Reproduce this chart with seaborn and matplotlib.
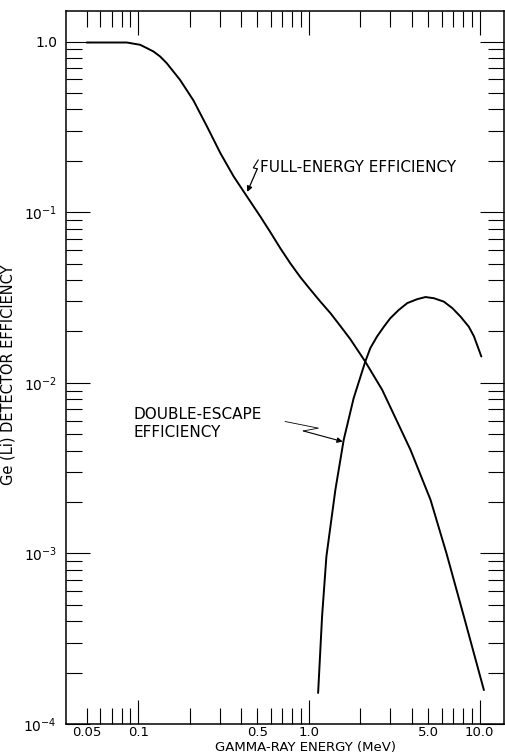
import matplotlib
import matplotlib.pyplot as plt
import numpy as np
import pandas as pd
import seaborn as sns
from matplotlib.ticker import FixedLocator, FixedFormatter, NullFormatter

matplotlib.use("Agg")

# full-energy efficiency curve
full_energy_mev = [0.050, 0.0858, 0.1027, 0.1125, 0.123, 0.1346, 0.147, 0.176, 0.211, 0.253,
                   0.303, 0.3625, 0.434, 0.52, 0.594, 0.680, 0.778, 0.891, 1.02, 1.168,
                   1.337, 1.53, 1.75, 2.14, 2.69, 3.94, 5.16, 6.4, 8.09, 10.6]
full_energy_eff = [0.987, 0.987, 0.957, 0.915, 0.874, 0.817, 0.747, 0.596, 0.451, 0.318,
                   0.222, 0.162, 0.1235, 0.0942, 0.0765, 0.0615, 0.0502, 0.0416, 0.0352, 0.0299,
                   0.0256, 0.0215, 0.0180, 0.0133, 0.00908, 0.00404, 0.00206, 0.00100, 0.000427,
                   0.000158]

# double-escape efficiency curve
double_escape_mev = [1.133, 1.195, 1.267, 1.43, 1.60, 1.83, 2.14, 2.29, 2.51, 2.75, 3.0,
                     3.36, 3.77, 4.31, 4.82, 5.40, 6.17, 6.92, 7.74, 8.65, 9.27, 10.24]
double_escape_eff = [1.52e-4, 4.27e-4, 9.6e-4, 0.00236, 0.00463, 0.00813, 0.0133, 0.01595,
                     0.0187, 0.0213, 0.0239, 0.0267, 0.0293, 0.0309, 0.0318, 0.0313, 0.0299,
                     0.0274, 0.0244, 0.0213, 0.0187, 0.01425]

x_major = [0.1, 1.0, 10.0]
x_minor = [0.05, 0.06, 0.07, 0.08, 0.09, 0.2, 0.3, 0.4, 0.5, 0.6, 0.7, 0.8, 0.9,
           2, 3, 4, 5, 6, 7, 8, 9]
x_label_pos = [0.05, 0.1, 0.5, 1.0, 5.0, 10.0]
x_label_txt = ["0.05", "0.1", "0.5", "1.0", "5.0", "10.0"]
y_major = [1e-4, 1e-3, 1e-2, 1e-1, 1.0]
y_major_txt = [r"$10^{-4}$", r"$10^{-3}$", r"$10^{-2}$", r"$10^{-1}$", "1.0"]
y_minor = [m * d for d in [1e-4, 1e-3, 1e-2, 1e-1] for m in range(2, 10)]

sns.set_style("ticks")
plt.rcParams["font.family"] = ["DejaVu Sans"]
plt.rcParams["axes.linewidth"] = 1.1
for key in ["text.color", "axes.labelcolor", "xtick.color", "ytick.color", "axes.edgecolor"]:
    plt.rcParams[key] = "black"

df = pd.concat([
    pd.DataFrame({"energy": full_energy_mev, "eff": full_energy_eff, "curve": "full"}),
    pd.DataFrame({"energy": double_escape_mev, "eff": double_escape_eff, "curve": "double"}),
])

fig = plt.figure(figsize=(5.06, 7.56), dpi=100)
ax = fig.add_axes([66 / 506, 32 / 756, 438 / 506, 713 / 756])

sns.lineplot(data=df, x="energy", y="eff", units="curve", estimator=None,
             color="black", lw=1.4, ax=ax, legend=False)

ax.set_xscale("log")
ax.set_yscale("log")
ax.set_xlim(0.0378, 13.9)
ax.set_ylim(1e-4, 1.51)

ax.xaxis.set_major_locator(FixedLocator(x_major))
ax.xaxis.set_minor_locator(FixedLocator(x_minor))
ax.xaxis.set_major_formatter(NullFormatter())
ax.xaxis.set_minor_formatter(NullFormatter())
ax.yaxis.set_major_locator(FixedLocator(y_major))
ax.yaxis.set_major_formatter(FixedFormatter(y_major_txt))
ax.yaxis.set_minor_locator(FixedLocator(y_minor))
ax.yaxis.set_minor_formatter(NullFormatter())

ax.tick_params(which="both", direction="in", top=True, right=True, color="black", width=0.8)
ax.tick_params(which="major", length=17)
ax.tick_params(which="minor", length=11.5)
ax.tick_params(axis="y", which="major", pad=6.5, labelsize=10)

for xv, txt in zip(x_label_pos, x_label_txt):
    ax.annotate(txt, xy=(xv, 0), xycoords=("data", "axes fraction"),
                xytext=(0, -1.2), textcoords="offset points",
                ha="center", va="top", fontsize=9.5)

ax.set_xlabel("GAMMA-RAY ENERGY (MeV)", fontsize=9.5, va="top")
ax.xaxis.set_label_coords(0.547, -0.0240)
ax.set_ylabel("Ge (Li) DETECTOR EFFICIENCY", fontsize=10.5)
ax.yaxis.set_label_coords(-0.1164, 0.49)

# labels and the little lightning arrows
ax.text(0.5195, 0.1819, "FULL-ENERGY EFFICIENCY", fontsize=11, ha="left", va="center")
ax.plot([0.5056, 0.4727, 0.4988], [0.2025, 0.1818, 0.1794], color="black", lw=0.8)
ax.annotate("", xy=(0.4357, 0.1315), xytext=(0.4988, 0.1794),
            arrowprops=dict(arrowstyle="-|>", color="black", lw=0.9, mutation_scale=8,
                            shrinkA=0, shrinkB=0))

ax.text(0.0935, 0.00578, "DOUBLE-ESCAPE\nEFFICIENCY", fontsize=11, ha="left", va="center",
        linespacing=1.25)
ax.plot([0.725, 1.137, 0.928], [0.00593, 0.00542, 0.00522], color="black", lw=0.6)
ax.annotate("", xy=(1.578, 0.00452), xytext=(0.928, 0.00522),
            arrowprops=dict(arrowstyle="-|>", color="black", lw=0.8, mutation_scale=8,
                            shrinkA=0, shrinkB=0))

fig.savefig("out.png", dpi=100)
